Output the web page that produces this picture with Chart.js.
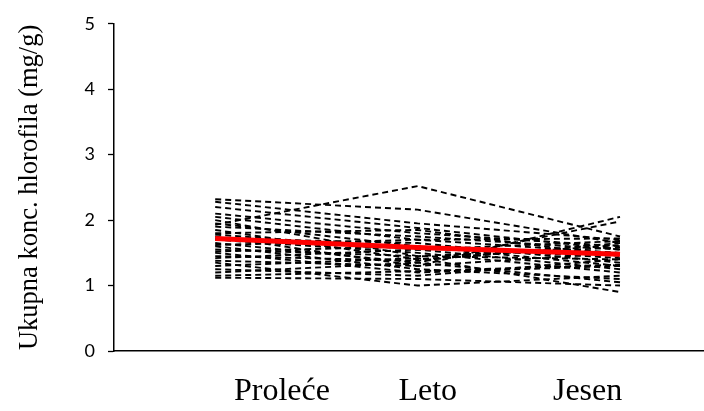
<!DOCTYPE html>
<html>
<head>
<meta charset="utf-8">
<script src="https://cdn.jsdelivr.net/npm/chart.js@4/dist/chart.umd.min.js"></script>
<style>
html,body{margin:0;padding:0;background:#fff;}
#wrap{width:704px;height:411px;position:relative;}
</style>
</head>
<body>
<div id="wrap"><canvas id="c" width="704" height="411"></canvas></div>
<script>
const categories = ["Proleće", "Leto", "Jesen"];
const yTicks = [0, 1, 2, 3, 4, 5];
const yTitle = "Ukupna konc. hlorofila (mg/g)";

const proleceValues = [2.32,2.28,2.20,1.93,2.10,2.05,2.00,1.95,1.90,1.85,1.80,1.78,1.75,1.72,1.70,1.65,1.62,1.60,1.55,1.52,1.50,1.45,1.42,1.38,1.35,1.30,1.25,1.20,1.15,1.12];
const letoValues    = [2.16,1.95,1.88,2.52,1.80,1.70,1.45,1.60,1.75,1.40,1.85,1.55,1.30,1.65,1.50,1.35,1.70,1.25,1.45,1.60,1.20,1.38,1.55,1.30,1.00,1.42,1.15,1.35,1.22,1.10];
const jesenValues   = [1.65,1.70,1.55,1.75,1.60,1.72,1.40,1.30,1.55,1.62,1.45,1.68,2.05,1.35,1.20,1.98,1.50,1.10,1.58,1.42,1.30,1.65,1.25,1.50,1.15,0.90,1.40,1.05,1.32,1.00];
const meanValues    = [1.72, 1.58, 1.48];

const datasets = [];
datasets.push({
  data: meanValues.map((v,i)=>({x:i,y:v})),
  borderColor: '#ff0000', borderWidth: 5, pointRadius: 0, order: 0
});
for (let k = 0; k < proleceValues.length; k++) {
  datasets.push({
    data: [proleceValues[k], letoValues[k], jesenValues[k]].map((v,i)=>({x:i,y:v})),
    borderColor: '#000000', borderWidth: 1.9, borderDash: [6,4], pointRadius: 0, order: 1
  });
}

new Chart(document.getElementById('c'), {
  type: 'line',
  data: { datasets },
  options: {
    responsive: false,
    animation: false,
    plugins: { legend: { display: false }, tooltip: { enabled: false } },
    layout: { padding: { left: 0, right: 0, top: 22, bottom: 0 } },
    scales: {
      x: {
        type: 'linear', min: -0.5, max: 2.415,
        afterBuildTicks: (s) => { s.ticks = [0.33, 1.05, 1.84].map(v => ({ value: v })); },
        afterFit: (s) => { s.height = 60; },
        grid: { display: true, drawOnChartArea: false, drawTicks: false, tickLength: 0 },
        border: { display: true, color: '#000', width: 1.5 },
        ticks: {
          autoSkip: false, maxRotation: 0, padding: 21, color: '#000',
          font: { family: 'Liberation Serif', size: 32 },
          callback: (v, i) => categories[i]
        }
      },
      y: {
        min: 0, max: 5,
        afterBuildTicks: (s) => { s.ticks = yTicks.map(v => ({ value: v })); },
        afterFit: (s) => { s.width = 114; },
        grid: { display: true, drawOnChartArea: false, tickLength: 6, color: '#000', tickColor: '#000', tickWidth: 1.3 },
        border: { display: true, color: '#000', width: 1.5 },
        ticks: { padding: 13, color: '#000', font: { family: 'Lato', size: 18 } },
        title: { display: true, text: yTitle, color: '#000', padding: { top: 14, bottom: 0 }, font: { family: 'Liberation Serif', size: 26.5 } }
      }
    }
  }
});
</script>
</body>
</html>
